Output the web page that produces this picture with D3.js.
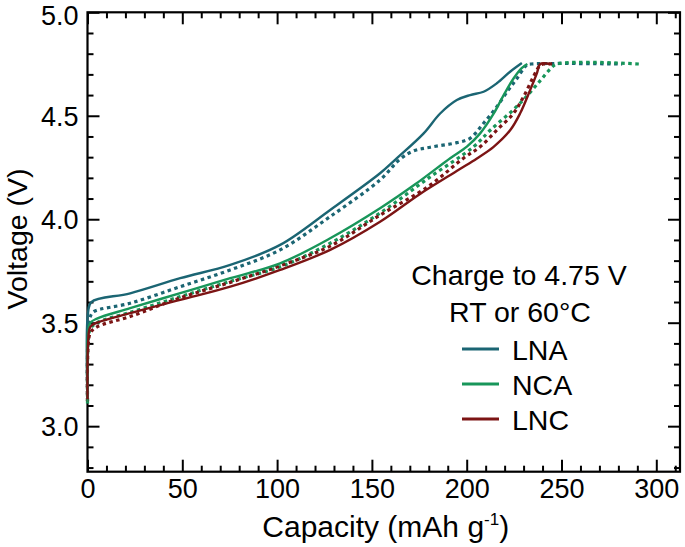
<!DOCTYPE html>
<html>
<head>
<meta charset="utf-8">
<script src="https://cdn.jsdelivr.net/npm/d3@7"></script>
<style>
  html, body { margin: 0; padding: 0; background: #fff; }
  text { font-family: "Liberation Sans", Arial, Helvetica, sans-serif; fill: #000; }
</style>
</head>
<body>
<svg id="chart" width="685" height="547"></svg>
<script>
// ---- data (capacity in mAh/g, voltage in V) ----
const seriesNames = ["LNA", "NCA", "LNC"];
const seriesColors = ["#1b6573", "#18965a", "#7c1414"];
const xTicks = [0, 50, 100, 150, 200, 250, 300];
const yTicks = [3.0, 3.5, 4.0, 4.5, 5.0];

const lnaSolid = [[0,3.14],[0.3,3.55],[2,3.60],[22.5,3.642],[48.9,3.715],[75.3,3.779],[101.6,3.876],[128,4.045],[154.3,4.222],[163.2,4.295],[177.3,4.415],[186,4.511],[194.8,4.576],[201.8,4.60],[208.9,4.616],[215.9,4.657],[222.9,4.713],[229.1,4.755]];
const lnaDotted = [[0,3.12],[0.3,3.45],[1.5,3.53],[3.2,3.553],[22.5,3.594],[48.9,3.674],[75.3,3.755],[101.6,3.852],[128,4.013],[154.3,4.19],[164.8,4.29],[172,4.33],[180.8,4.348],[194.8,4.37],[201.8,4.391],[208.9,4.464],[215.9,4.544],[222,4.625],[226.5,4.68],[231.7,4.745],[234,4.75],[282,4.75]];
const ncaSolid = [[0,3.12],[0.3,3.45],[1.5,3.50],[5,3.52],[22.5,3.57],[48.9,3.643],[75.3,3.715],[101.6,3.787],[128,3.908],[154.3,4.053],[173,4.17],[191.3,4.295],[200.1,4.351],[207.1,4.415],[214.2,4.51],[219.5,4.6],[224.7,4.68],[229,4.73],[232,4.75]];
const ncaDotted = [[0,3.11],[0.3,3.40],[1.5,3.47],[5,3.50],[22.5,3.55],[48.9,3.626],[75.3,3.70],[101.6,3.77],[128,3.884],[154.3,4.03],[180,4.2],[203.6,4.35],[212.4,4.43],[224.7,4.53],[231.7,4.595],[238.8,4.67],[244,4.725],[247.6,4.75],[291,4.75]];
const lncSolid = [[0,3.13],[0.3,3.40],[1.5,3.48],[5,3.50],[22.5,3.546],[48.9,3.61],[75.3,3.674],[101.6,3.755],[128,3.852],[154.3,3.988],[175,4.12],[196,4.24],[205.4,4.294],[214.2,4.35],[223,4.431],[228.2,4.512],[233.5,4.625],[237,4.705],[238.8,4.75],[244,4.75]];
const lncDotted = [[0,3.12],[0.3,3.38],[1.5,3.45],[5,3.48],[22.5,3.53],[48.9,3.62],[75.3,3.695],[101.6,3.775],[128,3.87],[154.3,4.02],[180,4.16],[198.3,4.295],[207.1,4.35],[215.9,4.431],[224.7,4.512],[230,4.592],[235.2,4.689],[238.8,4.745],[240.5,4.75],[246,4.75]];

const solidSeries = [lnaSolid, ncaSolid, lncSolid];
const dottedSeries = [lnaDotted, ncaDotted, lncDotted];

// ---- layout ----
const svg = d3.select("#chart");
const L = 87.5, R = 680, T = 12.3, B = 471.7;
const x = d3.scaleLinear().domain([0, 312.5]).range([L, R]);
const y = d3.scaleLinear().domain([2.78, 5.0]).range([B, T]);

const line = d3.line().x(d => x(d[0])).y(d => y(d[1])).curve(d3.curveCatmullRom.alpha(0.5));

// ---- axes (ticks inward, on all four sides) ----
const xMinor = d3.range(0, 311, 10);
const yMinor = d3.range(2.8, 5.001, 0.1).map(v => +v.toFixed(2));
const majLen = 12, minLen = 6;

function isMajorX(v) { return xTicks.includes(v); }
function isMajorY(v) { return yTicks.some(t => Math.abs(t - v) < 1e-6); }

const axB = svg.append("g").attr("transform", `translate(0,${B})`)
  .call(d3.axisBottom(x).tickValues(xMinor).tickSizeInner(-minLen).tickSizeOuter(0).tickFormat(d => isMajorX(d) ? d : ""));
axB.selectAll(".tick line").attr("y2", d => isMajorX(d) ? -majLen : -minLen);
const axT = svg.append("g").attr("transform", `translate(0,${T})`)
  .call(d3.axisTop(x).tickValues(xMinor).tickSizeInner(-minLen).tickSizeOuter(0).tickFormat(""));
axT.selectAll(".tick line").attr("y2", d => isMajorX(d) ? majLen : minLen);
const axL = svg.append("g").attr("transform", `translate(${L},0)`)
  .call(d3.axisLeft(y).tickValues(yMinor).tickSizeInner(-minLen).tickSizeOuter(0).tickFormat(d => isMajorY(d) ? d.toFixed(1) : ""));
axL.selectAll(".tick line").attr("x2", d => isMajorY(d) ? majLen : minLen);
const axR = svg.append("g").attr("transform", `translate(${R},0)`)
  .call(d3.axisRight(y).tickValues(yMinor).tickSizeInner(-minLen).tickSizeOuter(0).tickFormat(""));
axR.selectAll(".tick line").attr("x2", d => isMajorY(d) ? -majLen : -minLen);

svg.selectAll(".domain").remove();
svg.selectAll(".tick line").attr("stroke", "#000").attr("stroke-width", 2);
axB.selectAll(".tick text").attr("font-size", 27).attr("y", 7).attr("dy", "0.71em")
  .attr("font-family", "Liberation Sans, Arial, sans-serif").attr("fill", "#000");
axL.selectAll(".tick text").attr("font-size", 27).attr("x", -9)
  .attr("dy", d => Math.abs(d - 5.0) < 1e-6 ? "0.46em" : "0.35em")
  .attr("font-family", "Liberation Sans, Arial, sans-serif").attr("fill", "#000");

svg.append("rect").attr("x", L).attr("y", T).attr("width", R - L).attr("height", B - T)
  .attr("fill", "none").attr("stroke", "#000").attr("stroke-width", 2.2);

// curves drawn over the frame: dotted first, then solid
const gCurves = svg.append("g");
dottedSeries.forEach((s, i) => {
  gCurves.append("path").datum(s).attr("d", line)
    .attr("fill", "none").attr("stroke", seriesColors[i])
    .attr("stroke-width", 3.2).attr("stroke-dasharray", "3.5,3.5");
});
solidSeries.forEach((s, i) => {
  gCurves.append("path").datum(s).attr("d", line)
    .attr("fill", "none").attr("stroke", seriesColors[i])
    .attr("stroke-width", 2.4);
});

// ---- titles ----
const xt = svg.append("text").attr("x", (L + R) / 2 + 2).attr("y", 537)
  .attr("text-anchor", "middle").attr("font-size", 30);
xt.append("tspan").text("Capacity (mAh g");
xt.append("tspan").attr("font-size", 17).attr("dy", -12).text("-1");
xt.append("tspan").attr("dy", 12).text(")");

svg.append("text").attr("transform", `translate(26.8,${(T + B) / 2 - 3}) rotate(-90)`)
  .attr("text-anchor", "middle").attr("font-size", 28.5).text("Voltage (V)");

// ---- legend ----
const lg = svg.append("g");
lg.append("text").attr("x", 519).attr("y", 285).attr("text-anchor", "middle").attr("font-size", 28.5).text("Charge to 4.75 V");
lg.append("text").attr("x", 520).attr("y", 322).attr("text-anchor", "middle").attr("font-size", 28.5).text("RT or 60°C");
seriesNames.forEach((n, i) => {
  const yy = 349 + i * 35;
  lg.append("line").attr("x1", 462).attr("x2", 499).attr("y1", yy).attr("y2", yy)
    .attr("stroke", seriesColors[i]).attr("stroke-width", 3);
  lg.append("text").attr("x", 512).attr("y", yy + 10.5).attr("font-size", 28.5).text(n);
});
</script>
</body>
</html>
